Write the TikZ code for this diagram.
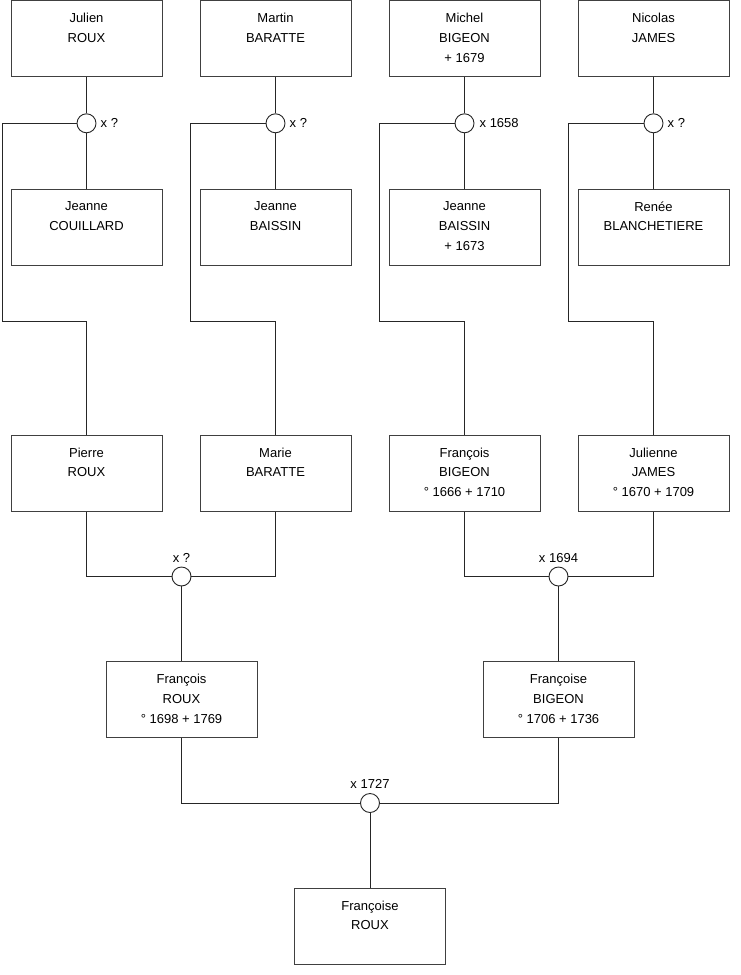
\documentclass[tikz,border=0pt]{standalone}
\usepackage{fontspec}
\setmainfont{Liberation Sans}
\begin{document}
\tikzset{
  box/.style={draw=black!75, line width=1pt, minimum width=151pt, minimum height=76pt, inner sep=0pt},
  txt/.style={anchor=north, align=center, inner sep=0pt, font=\fontsize{13}{19.7}\selectfont},
  ring/.style={draw=black!85, circle, minimum size=19pt, inner sep=0pt, line width=0.9pt, fill=white},
  link/.style={line width=1pt, draw=black!85},
  lbl/.style={inner sep=0pt, font=\fontsize{13}{15}\selectfont}
}
\newcommand\person[4]{\node[box] (#1) at (#2,#3) {}; \node[txt] (#1-t) at ([yshift=-13pt]#1.north) {#4};}
\begin{tikzpicture}[x=1pt,y=-1pt]
\useasboundingbox (0,0) rectangle (740,975);
% top row
\person{julien}{86.5}{38.5}{Julien\\ROUX}
\person{martin}{275.5}{38.5}{Martin\\BARATTE}
\person{michel}{464.5}{38.5}{Michel\\BIGEON\\+ 1679}
\person{nicolas}{653.5}{38.5}{Nicolas\\JAMES}
% second row
\person{jeanneC}{86.5}{227}{Jeanne\\COUILLARD}
\person{jeanneB}{275.5}{227}{Jeanne\\BAISSIN}
\person{jeanneBB}{464.5}{227}{Jeanne\\BAISSIN\\+ 1673}
\person{renee}{653.5}{227}{Renée\\BLANCHETIERE}
% third row
\person{pierre}{86.5}{473}{Pierre\\ROUX}
\person{marie}{275.5}{473}{Marie\\BARATTE}
\person{francoisB}{464.5}{473}{François\\BIGEON\\° 1666 + 1710}
\person{julienne}{653.5}{473}{Julienne\\JAMES\\° 1670 + 1709}
% fourth row
\person{francoisR}{181.5}{699.5}{François\\ROUX\\° 1698 + 1769}
\person{francoiseB}{558.5}{699.5}{Françoise\\BIGEON\\° 1706 + 1736}
% bottom
\person{francoiseR}{370}{926}{Françoise\\ROUX}

% marriage rings
\node[ring] (m1) at (86.5,123.3) {};
\node[ring] (m2) at (275.5,123.3) {};
\node[ring] (m3) at (464.5,123.3) {};
\node[ring] (m4) at (653.5,123.3) {};
\node[ring] (m5) at (181.5,576.5) {};
\node[ring] (m6) at (558.5,576.5) {};
\node[ring] (m7) at (370,803) {};

% corner coordinates
\coordinate (c1) at (2,321.5);
\coordinate (c2) at (190.5,321.5);
\coordinate (c3) at (379.5,321.5);
\coordinate (c4) at (568.5,321.5);

% connectors, top couples
\draw[link] (julien.south) -- (m1.north);
\draw[link] (m1.south) -- (jeanneC.north);
\draw[link] (m1.west) -| (c1) -| (pierre.north);
\draw[link] (martin.south) -- (m2.north);
\draw[link] (m2.south) -- (jeanneB.north);
\draw[link] (m2.west) -| (c2) -| (marie.north);
\draw[link] (michel.south) -- (m3.north);
\draw[link] (m3.south) -- (jeanneBB.north);
\draw[link] (m3.west) -| (c3) -| (francoisB.north);
\draw[link] (nicolas.south) -- (m4.north);
\draw[link] (m4.south) -- (renee.north);
\draw[link] (m4.west) -| (c4) -| (julienne.north);
% third row couples
\draw[link] (pierre.south) |- (m5.west);
\draw[link] (marie.south) |- (m5.east);
\draw[link] (m5.south) -- (francoisR.north);
\draw[link] (francoisB.south) |- (m6.west);
\draw[link] (julienne.south) |- (m6.east);
\draw[link] (m6.south) -- (francoiseB.north);
% last couple
\draw[link] (francoisR.south) |- (m7.west);
\draw[link] (francoiseB.south) |- (m7.east);
\draw[link] (m7.south) -- (francoiseR.north);

% labels
\node[lbl, anchor=west] (l1) at ([xshift=4pt]m1.east) {x ?};
\node[lbl, anchor=west] (l2) at ([xshift=4pt]m2.east) {x ?};
\node[lbl, anchor=west] (l3) at ([xshift=5pt]m3.east) {x 1658};
\node[lbl, anchor=west] (l4) at ([xshift=4pt]m4.east) {x ?};
\node[lbl, anchor=south] (l5) at ([yshift=4pt]m5.north) {x ?};
\node[lbl, anchor=south] (l6) at ([yshift=4pt]m6.north) {x 1694};
\node[lbl, anchor=south] (l7) at ([yshift=4pt]m7.north) {x 1727};
\end{tikzpicture}
\end{document}
